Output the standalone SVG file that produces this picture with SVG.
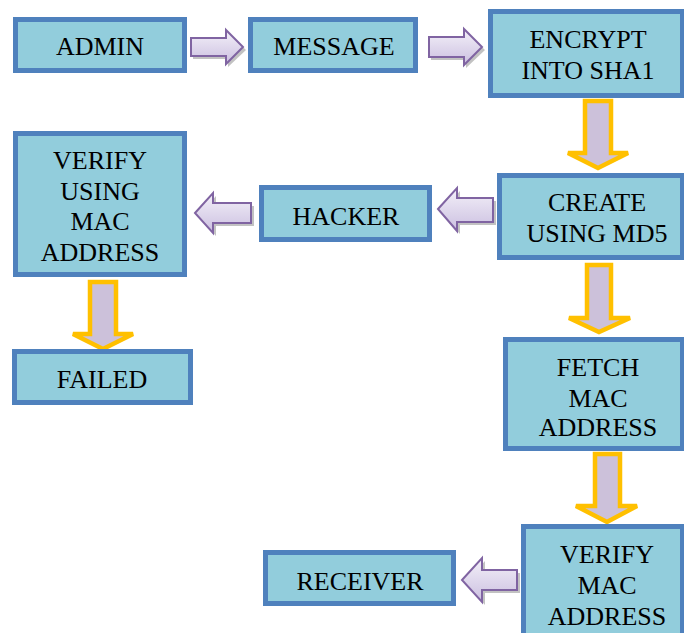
<svg xmlns="http://www.w3.org/2000/svg" width="684" height="633" viewBox="0 0 684 633">
<defs>
<linearGradient id="hg" x1="0" y1="0" x2="0" y2="1">
<stop offset="0" stop-color="#F4F1F9"/>
<stop offset="1" stop-color="#CBBFE0"/>
</linearGradient>
<style>
.box{fill:#92CDDC;stroke:#4F81BD;stroke-width:5}
.t{font-family:'Liberation Serif','Tinos','Times New Roman','DejaVu Serif',serif;font-size:26px;fill:#000;text-anchor:middle}
.ha{fill:url(#hg);stroke:#8064A2;stroke-width:2;stroke-linejoin:miter}
.hs{fill:#9A9A9A;opacity:0.6}
.va{fill:#CCC1DA;stroke:#FFC000;stroke-width:4.5;stroke-linejoin:miter}
</style>
</defs>
<rect width="684" height="633" fill="#FFFFFF"/>
<g id="connectors">
<polygon class="hs" points="193,41 228,41 228,33 246,50 228,67 228,59 193,59"/>
<polygon class="ha" points="191,38 226,38 226,30 243,47 226,64 226,56 191,56"/>
<polygon class="hs" points="431,40 466,40 466,32 485,50 466,68 466,60 431,60"/>
<polygon class="ha" points="429,37 464,37 464,29 482,47 464,65 464,57 429,57"/>
<polygon class="hs" points="441,212 460,191 460,201 496,201 496,225 460,225 460,234"/>
<polygon class="ha" points="438,209 457,188 457,198 493,198 493,222 457,222 457,231"/>
<polygon class="hs" points="198,216 216,196 216,206 254,206 254,226 216,226 216,236"/>
<polygon class="ha" points="195,213 213,193 213,203 251,203 251,223 213,223 213,233"/>
<polygon class="hs" points="465,583 485,561 485,573 520,573 520,593 485,593 485,605"/>
<polygon class="ha" points="462,580 482,558 482,570 517,570 517,590 482,590 482,602"/>
<polygon class="va" points="585,101 611,101 611,153 628,153 598,168 568,153 585,153"/>
<polygon class="va" points="90,282 116,282 116,334 133,334 103,349 73,334 90,334"/>
<polygon class="va" points="587,265 611,265 611,318 630,318 599,332 569,318 587,318"/>
<polygon class="va" points="595,454 620,454 620,506 637,506 607,522 576,506 595,506"/>
</g>
<g id="admin">
<rect class="box" x="15.5" y="19.5" width="169" height="51"/>
<text class="t" x="100" y="55" font-family="Liberation Serif, serif">ADMIN</text>
</g>
<g id="message">
<rect class="box" x="250.5" y="19.5" width="165" height="51"/>
<text class="t" x="334" y="55">MESSAGE</text>
</g>
<g id="encrypt">
<rect class="box" x="490.5" y="11.5" width="192" height="84"/>
<text class="t" x="588" y="48">ENCRYPT</text>
<text class="t" x="588" y="79">INTO SHA1</text>
</g>
<g id="create">
<rect class="box" x="499.5" y="175.5" width="183" height="82"/>
<text class="t" x="597" y="211">CREATE</text>
<text class="t" x="597" y="242">USING MD5</text>
</g>
<g id="hacker">
<rect class="box" x="261.5" y="187.5" width="168" height="52"/>
<text class="t" x="346" y="225">HACKER</text>
</g>
<g id="verify-using">
<rect class="box" x="15.5" y="133.5" width="169" height="141"/>
<text class="t" x="100" y="169">VERIFY</text>
<text class="t" x="100" y="200">USING</text>
<text class="t" x="100" y="230">MAC</text>
<text class="t" x="100" y="261">ADDRESS</text>
</g>
<g id="failed">
<rect class="box" x="14.5" y="351.5" width="176" height="51"/>
<text class="t" x="102" y="388">FAILED</text>
</g>
<g id="fetch">
<rect class="box" x="505.5" y="339.5" width="177" height="109"/>
<text class="t" x="598" y="376">FETCH</text>
<text class="t" x="598" y="407">MAC</text>
<text class="t" x="598" y="436">ADDRESS</text>
</g>
<g id="verify-mac">
<rect class="box" x="523.5" y="526.5" width="159" height="120"/>
<text class="t" x="607" y="563">VERIFY</text>
<text class="t" x="607" y="594">MAC</text>
<text class="t" x="607" y="625">ADDRESS</text>
</g>
<g id="receiver">
<rect class="box" x="265.5" y="552.5" width="188" height="51"/>
<text class="t" x="360" y="590">RECEIVER</text>
</g>
</svg>
